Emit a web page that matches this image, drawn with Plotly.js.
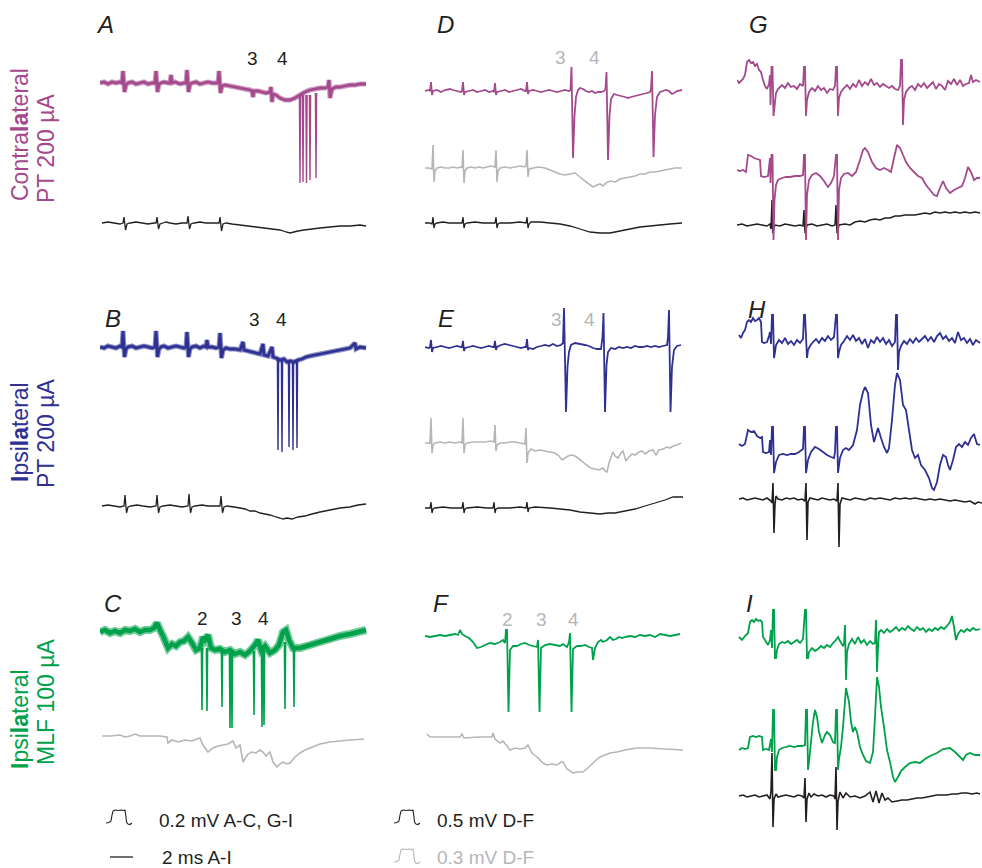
<!DOCTYPE html>
<html><head><meta charset="utf-8">
<script src="https://cdn.plot.ly/plotly-3.0.1.min.js"></script>
<style>html,body{margin:0;padding:0;background:#fff}#chart{width:982px;height:868px}</style>
</head><body><div id="chart"></div>
<script>
// ---- DATA: [time (samples), voltage deviation from baseline (display units, up = +)] ----
// Column A-C
const A_pink = [[0,0],[4,1],[8,-1],[12,1],[16,0],[20,1],[22,0],[23,12],[24.5,-9],[26,-2],[28,0],[32,1],[36,-1],[40,0],[44,1],[48,-1],[52,0],[55,0],[56,12],[57.5,-9],[59,-1],[61,0],[64,1],[68,0],[70,0],[71,8],[72,0],[75,1],[80,-1],[84,0],[86,0],[87,13],[88.5,-9],[90,-1],[92,0],[96,1],[100,-1],[104,0],[108,1],[112,0],[116,0],[118,0],[119,12],[120.5,-10],[122,-3],[125,-2],[130,-3],[135,-4],[140,-5],[145,-6],[150,-7],[152,-8],[153,-14],[154,-8],[158,-8],[162,-9],[166,-10],[170,-9],[171,-4],[172,-19],[173,-11],[176,-12],[180,-15],[185,-17],[190,-17],[195,-15],[200,-12],[205,-9],[210,-7],[215,-6],[220,-5],[225,-5],[228,-4],[229,3],[230,-15],[232,-6],[236,-4],[240,-4],[245,-3],[250,-2],[255,-2],[260,-1],[266,-1]];
const A_pinkSpikes = [[200,-12,-100],[203,-12,-99],[206.5,-12,-100],[210,-12,-97],[216,-10,-95]];
const A_black = [[2,0],[8,1],[14,0],[20,-1],[23,0],[24,6],[25.5,-7],[27,-1],[30,0],[36,1],[42,0],[48,-1],[54,0],[56,0],[57,6],[58.5,-6],[60,-1],[63,0],[66,1],[70,0],[76,-1],[82,0],[87,0],[88,7],[89.5,-6],[91,-1],[94,0],[100,1],[106,0],[112,0],[119,0],[120,6],[121.5,-8],[123,-1],[126,0],[132,-1],[140,-2],[148,-3],[156,-4],[164,-5],[172,-6],[180,-7],[186,-9],[190,-10],[194,-9],[198,-8],[204,-7],[212,-6],[220,-5],[230,-4],[240,-3],[250,-3],[260,-2],[266,-3]];
const B_blue = [[0,0],[4,-1],[8,1],[12,0],[16,-1],[20,1],[22,0],[23,16],[24.5,-10],[26,-2],[28,0],[32,1],[36,-1],[40,0],[44,1],[48,0],[52,-1],[55,0],[56,16],[57.5,-10],[59,-2],[61,0],[64,1],[68,-1],[72,0],[76,1],[80,0],[84,-1],[86,0],[87,15],[88.5,-10],[90,-2],[92,0],[96,1],[100,-1],[104,1],[106,0],[107,7],[108,0],[112,0],[116,-1],[119,0],[120,14],[121.5,-11],[123,-3],[126,-1],[130,-2],[135,-2],[140,-3],[143,5],[144,-3],[148,-4],[152,-5],[156,-6],[160,-7],[163,3],[164,-8],[168,-9],[172,0],[173,-10],[176,-11],[180,-13],[184,-12],[187,-15],[190,-14],[194,-15],[198,-13],[202,-12],[206,-10],[210,-9],[215,-8],[220,-7],[225,-6],[230,-5],[235,-4],[240,-3],[245,-2],[250,-1],[255,4],[256,-2],[260,0],[266,-1]];
const B_blueSpikes = [[178,-13,-103],[182,-13,-105],[189,-14,-100],[193,-14,-103],[197,-13,-101]];
const B_black = [[2,0],[8,1],[14,0],[20,-1],[24,0],[25,11],[26.5,-7],[28,-1],[31,0],[37,1],[43,0],[50,-1],[56,0],[57,11],[58.5,-7],[60,-1],[63,0],[70,1],[76,0],[82,-1],[88,0],[89,12],[90.5,-7],[92,-1],[95,0],[102,1],[108,0],[115,0],[120,0],[121,10],[122.5,-7],[124,-1],[127,0],[134,-1],[140,-2],[145,-3],[150,-5],[155,-5],[160,-7],[165,-8],[170,-9],[176,-11],[180,-12],[183,-13],[187,-12],[192,-13],[198,-11],[205,-10],[212,-8],[220,-6],[230,-4],[240,-2],[250,-1],[258,1],[266,2]];
const C_green = [[0,0],[5,2],[10,-1],[15,1],[20,-1],[25,2],[30,1],[35,3],[40,0],[45,2],[50,2],[54,4],[57,9],[60,2],[63,-4],[68,-16],[72,-12],[76,-14],[80,-10],[84,-9],[88,-5],[92,-11],[96,-18],[100,-16],[103,-5],[105,-8],[108,-3],[111,-16],[115,-18],[120,-17],[125,-20],[130,-18],[135,-22],[140,-20],[145,-23],[150,-19],[155,-13],[158,-8],[161,-18],[165,-14],[170,-21],[175,-18],[179,-13],[183,0],[186,2],[189,-8],[193,-16],[200,-16],[210,-13],[220,-10],[230,-7],[240,-4],[250,-2],[258,0],[266,2]];
const C_greenSpikes = [[102,-16,-78],[107,-16,-79],[122,-17,-75],[130,-18,-96],[132,-18,-96],[154,-19,-83],[162,-18,-95],[164,-18,-93],[185,-10,-77],[194,-16,-75]];
const C_gray = [[2,0],[10,0],[20,1],[25,-1],[30,0],[35,2],[40,0],[50,0],[60,0],[67,-1],[68,-7],[72,-4],[78,-6],[85,-4],[92,-5],[97,-3],[100,-2],[103,-9],[108,-16],[113,-12],[118,-10],[123,-9],[128,-8],[133,-5],[136,-12],[140,-9],[143,-26],[148,-18],[152,-16],[156,-17],[160,-14],[163,-16],[166,-20],[170,-16],[173,-26],[177,-31],[180,-28],[183,-26],[187,-28],[190,-27],[195,-21],[200,-17],[205,-14],[210,-12],[220,-8],[230,-6],[240,-5],[250,-4],[264,-3]];
// Column D-F
const D_pink = [[0,0],[4,1],[5,0],[6,9],[7,-4],[8,0],[12,1],[16,-1],[20,1],[25,2],[28,1],[32,0],[36,-1],[37,0],[38,9],[39,-4],[40,-1],[44,0],[48,1],[52,-1],[56,0],[60,1],[64,-1],[68,0],[69,-1],[70,8],[71,-4],[72,-1],[76,0],[80,1],[84,-1],[88,0],[92,1],[96,2],[100,0],[101,0],[102,9],[103,-3],[104,0],[108,1],[112,0],[116,-1],[120,0],[124,1],[128,0],[132,-1],[136,0],[140,1],[144,0],[145.5,1],[146.5,24],[148,-67],[149.5,-25],[151,-6],[153,1],[155,3],[158,2],[161,0],[164,-1],[167,0],[170,-2],[173,-1],[176,-1],[179,0],[180.5,2],[181.5,19],[183,-69],[184.5,-25],[186,-8],[189,-3],[192,-4],[196,-5],[200,-6],[203,-7],[206,-6],[210,-5],[214,-4],[218,-3],[222,-2],[225,-1],[226,2],[227,20],[228.5,-66],[230,-24],[232,-6],[235,-1],[238,0],[241,1],[244,0],[247,-3],[249,-2],[252,0],[257,1]];
const D_gray = [[0,0],[4,0],[7,-1],[8,23],[9,-14],[10,-3],[12,0],[16,1],[20,0],[24,0],[28,1],[32,0],[36,1],[37,0],[38,18],[39,-15],[40,-3],[42,0],[46,1],[50,0],[54,1],[58,0],[62,1],[66,2],[70,1],[71,18],[72,-14],[73,-3],[75,0],[80,1],[85,0],[90,1],[95,2],[100,1],[101,2],[102,18],[103,-9],[104,-1],[108,0],[114,1],[120,0],[125,-2],[130,-4],[135,-6],[140,-7],[145,-6],[150,-5],[155,-9],[160,-13],[164,-16],[168,-19],[172,-17],[175,-16],[178,-18],[181,-15],[185,-13],[190,-14],[195,-11],[200,-10],[205,-9],[210,-8],[215,-6],[220,-6],[225,-4],[230,-4],[235,-3],[240,-2],[245,-1],[250,0],[257,0]];
const D_black = [[0,0],[5,0],[7,-1],[8,6],[9,-5],[10,-1],[12,0],[18,1],[24,0],[30,0],[37,0],[38,6],[39,-5],[40,-1],[42,0],[50,1],[58,0],[66,0],[70,0],[71,6],[72,-5],[73,-1],[75,0],[85,0],[95,1],[101,0],[102,6],[103,-5],[104,-1],[106,1],[115,1],[125,0],[135,-1],[145,-3],[155,-6],[165,-9],[175,-10],[185,-10],[195,-8],[205,-6],[215,-4],[225,-3],[235,-2],[245,-1],[257,0]];
const E_blue = [[0,0],[4,-1],[5,0],[6,7],[7,-5],[8,-1],[12,0],[16,1],[20,0],[24,-1],[28,0],[32,1],[36,0],[37,0],[38,6],[39,-4],[40,-1],[44,0],[48,1],[52,0],[56,-1],[60,0],[64,1],[68,0],[69,0],[70,6],[71,-3],[72,0],[76,2],[80,3],[84,2],[88,1],[92,0],[96,-1],[100,0],[101,0],[102,8],[103,-3],[104,-1],[108,-2],[112,0],[116,1],[120,2],[124,1],[128,3],[132,1],[136,2],[138,4],[139,39],[141,-65],[142.5,-20],[144,-5],[146,2],[150,4],[155,3],[160,2],[164,1],[168,-1],[172,-2],[176,-2],[177.5,10],[178.5,34],[180,-65],[181.5,-18],[183,-5],[186,-1],[190,-2],[194,0],[198,-1],[202,0],[206,-1],[210,1],[214,0],[218,0],[222,1],[226,0],[230,1],[234,0],[238,1],[242,2],[243,10],[244,37],[245.5,-65],[247,-20],[249,-3],[252,1],[256,2]];
const E_gray = [[0,0],[4,0],[5,-1],[6,25],[7,-10],[8,-2],[10,0],[15,1],[20,0],[25,1],[30,0],[35,1],[37,0],[38,25],[39,-10],[40,-2],[42,0],[48,1],[54,1],[60,1],[66,2],[69,1],[70,18],[71,-8],[72,-2],[75,0],[80,0],[85,1],[90,1],[95,0],[100,-1],[101,15],[102,-20],[103,-10],[106,-6],[110,-8],[115,-7],[120,-8],[125,-9],[130,-10],[134,-13],[137,-17],[140,-15],[143,-13],[147,-12],[150,-13],[153,-15],[157,-18],[160,-21],[163,-23],[166,-25],[170,-26],[174,-27],[178,-25],[180,-28],[182,-29],[184,-20],[186,-14],[188,-9],[190,-13],[193,-15],[196,-10],[198,-8],[201,-18],[204,-14],[207,-11],[210,-12],[214,-9],[217,-8],[220,-11],[224,-8],[228,-7],[231,-12],[234,-7],[238,-6],[242,-4],[245,-5],[248,-3],[252,-2],[256,0]];
const E_black = [[0,0],[5,0],[6,6],[7,-5],[8,-1],[10,0],[18,1],[26,0],[34,0],[37,0],[38,6],[39,-5],[40,-1],[42,0],[52,1],[62,0],[68,0],[69,6],[70,-5],[71,-1],[73,0],[85,0],[95,1],[101,0],[102,6],[103,-4],[104,0],[110,1],[125,0],[135,-1],[145,-2],[155,-4],[165,-5],[175,-6],[183,-5],[190,-5],[200,-3],[210,-1],[220,2],[230,5],[240,8],[248,11],[258,11]];
const F_green = [[0,0],[5,-1],[10,0],[15,1],[20,0],[25,1],[30,2],[33,1],[35,6],[37,2],[40,0],[44,-2],[48,-6],[52,-12],[56,-11],[60,-9],[65,-7],[70,-8],[75,-6],[78,-4],[80,-7],[81,6],[82,6],[83.5,-76],[85,-14],[88,-10],[92,-10],[96,-8],[100,-7],[104,-9],[108,-10],[112,-11],[113,-4],[114.5,-76],[116,-12],[120,-9],[125,-8],[130,-9],[135,-10],[138,-8],[142,-11],[144,-6],[145,3],[146.5,-76],[148,-13],[152,-10],[156,-10],[160,-9],[164,-11],[167,-12],[168,-24],[170,-12],[173,-6],[176,-4],[178,-6],[182,-4],[185,-1],[188,-4],[191,-3],[194,-1],[197,-2],[200,-1],[205,0],[210,-1],[215,1],[220,0],[225,1],[230,-1],[235,2],[240,1],[245,0],[250,1],[255,2]];
const F_gray = [[2,2],[5,-1],[20,-1],[35,-1],[37,2],[39,-2],[55,-1],[67,-1],[68,3],[70,-3],[75,-7],[78,-5],[82,-10],[85,-14],[90,-12],[95,-13],[100,-12],[103,-9],[107,-17],[112,-21],[118,-27],[122,-29],[127,-28],[132,-29],[136,-26],[138,-26],[142,-33],[148,-37],[152,-36],[158,-36],[165,-30],[170,-25],[175,-21],[180,-19],[185,-17],[192,-16],[200,-14],[212,-12],[225,-12],[240,-13],[258,-14]];
// Column G-I
const G_pinkTop = [[0,7],[2,4],[4,6],[6,8],[8,12],[10,25],[12,27],[14,24],[16,25],[18,21],[20,23],[22,17],[24,15],[26,7],[28,1],[30,-2],[32,3],[33,12],[33.5,-18],[34,0],[34.5,20],[35.5,20],[36.5,-29],[37.5,-20],[39,-6],[41,-2],[45,2],[48,-1],[51,4],[54,0],[57,1],[60,-2],[63,3],[66,1],[67,20],[68,20],[69,-29],[70,-13],[72,-5],[75,-1],[78,-4],[81,1],[84,-3],[87,-1],[90,-6],[93,-2],[96,-3],[98,1],[99,20],[100,20],[101,-29],[102,-11],[104,-5],[107,-1],[110,2],[113,-2],[116,3],[119,0],[122,7],[125,1],[128,5],[131,2],[134,8],[137,2],[140,4],[143,0],[146,3],[149,1],[152,-1],[155,1],[158,-2],[161,-3],[163,1],[164,27],[165,27],[166,-38],[167,-13],[169,-5],[172,-1],[175,1],[178,-3],[181,3],[184,0],[187,4],[190,-1],[193,2],[196,5],[199,-2],[202,3],[205,1],[208,-3],[211,6],[214,3],[217,8],[220,2],[223,7],[226,1],[229,3],[232,4],[234,12],[236,5],[239,7],[243,5]];
const G_pinkMid = [[0,7],[3,6],[6,7],[9,5],[11,22],[14,21],[17,19],[20,18],[23,17],[24,1],[27,0],[31,1],[33,19],[33.5,-6],[34.5,22],[35.5,22],[36.5,-63],[37.5,-23],[39,-8],[41,-3],[45,-1],[49,0],[53,0],[58,1],[63,1],[66,2],[67,22],[68,22],[69,-63],[70,-18],[72,-3],[75,2],[79,4],[83,1],[87,-4],[91,-10],[94,-6],[97,1],[99,22],[100,22],[101,-63],[102,-13],[104,-1],[107,3],[111,4],[115,1],[119,5],[123,17],[126,27],[128,29],[131,25],[135,15],[139,9],[143,7],[147,9],[151,7],[154,5],[157,19],[160,32],[163,29],[166,22],[169,15],[173,9],[177,5],[181,1],[185,-1],[189,-8],[193,-13],[197,-18],[200,-19],[203,-11],[206,-4],[209,-11],[213,-16],[217,-13],[221,-11],[225,-9],[228,-1],[231,10],[234,5],[237,-3],[240,-1],[243,-1]];
const G_black = [[0,0],[5,1],[10,-1],[15,0],[20,1],[25,0],[30,-1],[33,1],[34,-4],[35,25],[35.7,-8],[36.5,-4],[38,0],[43,-1],[48,1],[53,0],[58,-1],[63,0],[66,-1],[67,15],[68,-8],[70,0],[75,1],[80,-1],[85,0],[90,1],[95,-1],[98,0],[99,20],[100,-8],[102,0],[108,1],[113,0],[118,3],[123,4],[128,3],[133,5],[138,6],[143,5],[148,7],[153,7],[158,9],[163,9],[168,10],[173,10],[178,10],[183,11],[188,12],[193,11],[198,13],[203,12],[208,13],[213,12],[218,13],[223,12],[228,13],[233,12],[238,13],[243,12]];
const H_blueTop = [[2,7],[4,4],[6,9],[8,12],[10,20],[12,22],[14,20],[16,24],[18,21],[20,22],[22,24],[24,20],[25,0],[27,-1],[30,0],[32,6],[33,10],[34,-2],[35,27],[36,27],[37,-16],[38,-10],[39,-3],[42,2],[45,-1],[48,4],[51,-2],[54,1],[57,-3],[60,2],[63,-1],[66,3],[67,27],[68,27],[70,-16],[71,-8],[73,-4],[76,0],[79,3],[82,-1],[85,4],[88,1],[91,6],[94,2],[97,5],[99,27],[100,27],[101,-16],[102,-10],[104,-3],[107,1],[110,6],[113,2],[116,7],[119,1],[122,4],[125,-2],[128,3],[131,-6],[134,2],[137,-1],[140,5],[143,0],[146,4],[149,-2],[152,2],[155,-4],[158,0],[159,27],[160,27],[161,-28],[162,-10],[164,-4],[167,1],[170,-2],[173,3],[176,-1],[179,4],[182,0],[185,3],[188,6],[191,1],[194,5],[197,0],[200,6],[203,9],[206,3],[209,6],[212,1],[215,4],[218,-1],[221,10],[224,2],[227,4],[230,-1],[233,3],[236,-3],[239,2],[243,-1]];
const H_blueMid = [[2,9],[5,7],[8,9],[11,23],[14,21],[17,22],[20,17],[23,15],[25,16],[26,1],[29,0],[32,1],[33,13],[34,-2],[35,26],[36,26],[37,-20],[39,-9],[42,-2],[46,-1],[50,-2],[54,-1],[58,-1],[62,1],[66,4],[67,26],[68,26],[69,-20],[71,-7],[74,1],[78,6],[82,4],[86,1],[90,-2],[94,-4],[97,-5],[98,1],[99,26],[100,26],[101,-20],[103,-5],[106,3],[109,5],[112,3],[116,8],[120,23],[123,48],[126,61],[128,66],[131,60],[134,28],[137,11],[139,18],[141,25],[144,15],[147,6],[150,0],[152,5],[155,33],[158,68],[160,80],[163,73],[166,48],[169,43],[172,23],[175,3],[178,-5],[181,-2],[184,-12],[188,-17],[192,-25],[195,-35],[197,-37],[200,-29],[203,-12],[206,-2],[209,-4],[211,-12],[213,-17],[216,-7],[219,6],[222,9],[225,6],[228,11],[231,8],[234,15],[237,19],[240,9],[243,8]];
const H_black = [[2,0],[6,1],[10,-1],[14,0],[18,1],[22,0],[26,-1],[30,1],[34,-2],[35,-4],[36,16],[37,-34],[38,-5],[39,3],[41,0],[45,-1],[49,1],[53,0],[57,1],[61,-1],[65,0],[68,-2],[69,16],[70,-41],[71,-3],[73,1],[77,0],[81,-1],[85,1],[89,0],[93,-1],[97,0],[100,-2],[101,16],[102,-48],[103,-5],[105,1],[109,0],[113,-1],[118,1],[123,0],[128,-1],[133,1],[138,0],[143,1],[148,0],[153,-1],[158,1],[163,0],[168,1],[173,0],[178,1],[183,0],[188,-1],[193,0],[198,-1],[203,0],[208,-1],[213,-2],[218,-1],[223,-2],[228,-3],[233,-2],[238,-5],[241,-3],[245,-4]];
const I_greenTop = [[2,5],[5,2],[8,6],[11,9],[13,20],[15,22],[17,20],[19,23],[21,21],[23,22],[25,20],[26,5],[28,2],[31,-3],[33,2],[34,12],[35,-6],[36,32],[37,32],[38,-16],[39,-16],[40,-8],[42,-2],[45,0],[48,-1],[51,1],[54,-2],[57,0],[60,2],[63,-1],[66,3],[68,32],[69,32],[70,-16],[71,-16],[72,-10],[75,-6],[78,-9],[81,-7],[84,-4],[87,-6],[90,-3],[93,-5],[96,-1],[99,2],[101,5],[103,1],[106,-4],[107,-2],[108,17],[109,-38],[110,-10],[112,-2],[115,3],[118,-2],[121,5],[124,-1],[127,2],[130,-3],[133,1],[136,-2],[138,-1],[139,22],[140,-30],[141,-6],[142,10],[144,12],[147,9],[150,13],[153,10],[156,12],[159,15],[162,11],[165,14],[168,12],[171,16],[174,13],[177,11],[180,15],[183,12],[186,14],[189,10],[192,13],[195,11],[198,14],[201,12],[204,15],[207,13],[210,16],[213,20],[215,26],[217,15],[219,2],[221,8],[224,12],[227,10],[230,13],[233,11],[236,14],[239,12],[243,13]];
const I_greenMid = [[2,-3],[5,-1],[8,-2],[11,-1],[13,10],[16,11],[19,10],[22,11],[25,10],[26,-3],[29,-2],[32,-3],[34,8],[35,-5],[36,37],[37,37],[38,-23],[39,-23],[40,-10],[42,-3],[45,-1],[49,0],[53,1],[57,0],[61,1],[65,1],[68,2],[69,37],[70,37],[71,-23],[72,-15],[74,5],[76,25],[78,37],[80,30],[82,15],[85,4],[88,12],[90,15],[93,12],[96,5],[98,4],[99,37],[100,37],[101,-23],[102,-12],[104,0],[106,20],[109,59],[112,45],[114,25],[116,15],[118,20],[120,15],[123,0],[126,-8],[129,-14],[133,-16],[136,-5],[138,30],[140,70],[142,60],[144,40],[147,20],[150,-3],[153,-15],[156,-30],[158,-35],[161,-30],[164,-24],[168,-20],[173,-16],[178,-15],[183,-16],[188,-12],[193,-9],[200,-6],[206,-2],[213,-1],[218,-5],[223,-10],[226,-13],[229,-8],[233,-6],[238,-8],[243,-8]];
const I_black = [[2,0],[6,1],[10,-1],[14,0],[18,1],[22,-1],[26,0],[30,1],[33,-3],[34,5],[35,43],[36,-31],[37,-3],[39,2],[41,-1],[45,0],[49,1],[53,0],[57,-1],[61,1],[65,0],[67,-2],[68,18],[69,-26],[70,-3],[72,3],[74,-1],[77,2],[81,0],[85,1],[89,-1],[93,1],[97,0],[98,-3],[99,29],[100,-34],[101,-5],[103,4],[106,-2],[109,3],[113,-1],[118,0],[123,-2],[128,0],[133,4],[136,-6],[139,5],[142,-7],[145,3],[148,-4],[151,-2],[155,-6],[160,-5],[165,-4],[170,-4],[175,-3],[180,-2],[185,-2],[190,-1],[195,0],[200,1],[205,1],[210,1],[215,2],[220,2],[225,3],[230,3],[235,2],[240,3],[243,2]];
// Calibration pulse shape (normalised amplitude) and scale labels
const calPulse = [[0,0],[3,0.04],[5,0.15],[6,0.6],[7,0.92],[9,1],[12,0.96],[15,1],[18,0.96],[19,1],[20,0.45],[20.5,0.08],[22,-0.08],[24,-0.12],[25,-0.04],[26,0]];
const calTimeMs = 2;
const scaleLabels = ['0.2 mV A-C, G-I', '2 ms A-I', '0.5 mV D-F', '0.3 mV D-F'];
const panelLetters = ['A','B','C','D','E','F','G','H','I'];
const rowLabels = [['Contra<b>la</b>teral','PT 200 µA'],['<b>I</b>psi<b>la</b>teral','PT 200 µA'],['<b>I</b>psi<b>la</b>teral','MLF 100 µA']];

// ---- STYLE / LAYOUT ----
const PINK='#a4498c', BLUE='#2e3192', GREEN='#00a14b', GRAY='#b4b6b9', BLACK='#231f20';
const W=982, H=868, FONT='Liberation Sans, Arial, Helvetica, sans-serif';
const traces=[];
function line(pairs, ax, base, color, w, op){
  traces.push({type:'scatter',mode:'lines',xaxis:ax,yaxis:'y',opacity:(op===undefined?1:op),
    x:pairs.map(p=>p[0]), y:pairs.map(p=>base-p[1]),
    line:{color:color,width:w,simplify:false}, hoverinfo:'skip', showlegend:false});
}
// overlapping-sweep band: faint wide halo + core line
function band(pairs, ax, base, color, halo, core){ line(pairs,ax,base,color,halo,0.55); line(pairs,ax,base,color,core,1); }
function spikes(list, ax, base, color, w){
  const x=[],y=[];
  list.forEach(s=>{ x.push(s[0]-0.6,s[0],s[0]+0.6,null); y.push(base-s[1],base-s[2],base-s[1],null); });
  traces.push({type:'scatter',mode:'lines',xaxis:ax,yaxis:'y',x:x,y:y,
    line:{color:color,width:w,simplify:false},hoverinfo:'skip',showlegend:false,connectgaps:false});
}
// Column 1
band(A_pink,'x',83,PINK,5,2.8); spikes(A_pinkSpikes,'x',83,PINK,1.4); line(A_black,'x',223,BLACK,1.3);
band(B_blue,'x',347,BLUE,5,2.8); spikes(B_blueSpikes,'x',347,BLUE,1.4); line(B_black,'x',506,BLACK,1.3);
band(C_green,'x',632,GREEN,8,4.5); spikes(C_greenSpikes,'x',632,GREEN,1.6); line(C_gray,'x',736,GRAY,1.6);
// Column 2
line(D_pink,'x2',91,PINK,1.8); line(D_gray,'x2',168,GRAY,1.6); line(D_black,'x2',223,BLACK,1.3);
line(E_blue,'x2',347,BLUE,1.8); line(E_gray,'x2',443,GRAY,1.6); line(E_black,'x2',508,BLACK,1.3);
line(F_green,'x2',636,GREEN,1.8); line(F_gray,'x2',736,GRAY,1.6);
// Column 3
line(G_black,'x3',225,BLACK,1.5); line(G_pinkTop,'x3',87,PINK,1.8); line(G_pinkMid,'x3',177,PINK,1.8);
line(H_blueTop,'x3',342,BLUE,1.8); line(H_blueMid,'x3',453,BLUE,1.8); line(H_black,'x3',499,BLACK,1.6);
line(I_black,'x3',796,BLACK,1.6); line(I_greenTop,'x3',642,GREEN,1.8); line(I_greenMid,'x3',747,GREEN,1.8);
// Scale bars (overlay axis x4 in page units)
function pulse(x0, base, h, color){
  traces.push({type:'scatter',mode:'lines',xaxis:'x4',yaxis:'y',
    x:calPulse.map(p=>x0+p[0]), y:calPulse.map(p=>base-p[1]*h),
    line:{color:color,width:1.1,simplify:false},hoverinfo:'skip',showlegend:false});
}
pulse(106,823,13,BLACK); pulse(394,823,13,BLACK); pulse(394,862,13,GRAY);
const pxPerMs=11.5;
traces.push({type:'scatter',mode:'lines',xaxis:'x4',yaxis:'y',x:[110,110+calTimeMs*pxPerMs],y:[857,857],
  line:{color:BLACK,width:1.3},hoverinfo:'skip',showlegend:false});

const ann=[];
function txt(t,x,y,size,color,extra){
  ann.push(Object.assign({text:t,xref:'paper',yref:'paper',x:x/W,y:1-y/H,showarrow:false,
    xanchor:'center',yanchor:'middle',font:{family:FONT,size:size,color:color}},extra||{}));
}
const letterPos=[[105,25],[113,318],[113,603],[445,25],[446,318],[441,603],[758,25],[757,309],[749,603]];
panelLetters.forEach((l,i)=>txt('<i>'+l+'</i>',letterPos[i][0],letterPos[i][1],24,BLACK));
// spike numbers
[['3',253,59],['4',282,59],['3',254,320],['4',281,320],['2',202,618],['3',236,618],['4',263,618]].forEach(a=>txt(a[0],a[1],a[2],19,BLACK));
[['3',560,57],['4',594,57],['3',556,320],['4',589,320],['2',507,619],['3',541,619],['4',573,619]].forEach(a=>txt(a[0],a[1],a[2],19,GRAY));
// row labels
const rowCol=[PINK,BLUE,GREEN];
const rowY=[[135,149],[432,434],[719,702]];
rowLabels.forEach((r,i)=>{
  txt(r[0],20,rowY[i][0],23,rowCol[i],{textangle:-90});
  txt(r[1],46,rowY[i][1],23,rowCol[i],{textangle:-90});
});
// scale labels
txt(scaleLabels[0],157,820,19,BLACK,{xanchor:'left'});
txt(scaleLabels[1],160,857,19,BLACK,{xanchor:'left'});
txt(scaleLabels[2],435,820,19,BLACK,{xanchor:'left'});
txt(scaleLabels[3],435,857,19,GRAY,{xanchor:'left'});

const hid={visible:false,fixedrange:true,showgrid:false,zeroline:false};
const layout={width:W,height:H,margin:{l:0,r:0,t:0,b:0},paper_bgcolor:'#fff',plot_bgcolor:'rgba(0,0,0,0)',
  showlegend:false,
  xaxis:Object.assign({domain:[100/W,370/W],range:[0,270],anchor:'y'},hid),
  xaxis2:Object.assign({domain:[425/W,690/W],range:[0,265],anchor:'y'},hid),
  xaxis3:Object.assign({domain:[737/W,1],range:[0,245],anchor:'y'},hid),
  xaxis4:Object.assign({domain:[0,1],range:[0,W],anchor:'y'},hid),
  yaxis:Object.assign({domain:[0,1],range:[H,0]},hid),
  annotations:ann};
Plotly.newPlot('chart',traces,layout,{staticPlot:true,displayModeBar:false});
</script></body></html>
